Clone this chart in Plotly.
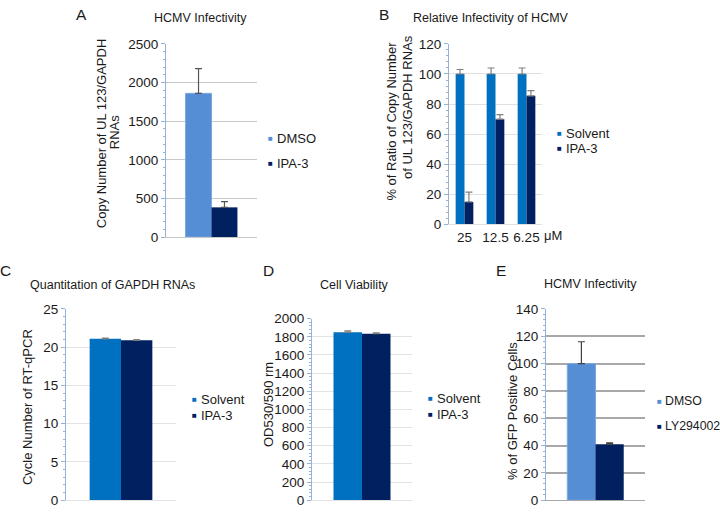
import plotly.graph_objects as go

# ---------------- data ----------------
a_groups = ["DMSO", "IPA-3"]
a_values = [1860, 385]
a_errors = [320, 75]

b_doses = ["25", "12.5", "6.25"]
b_solvent = [100, 100, 100]
b_solvent_err = [3, 4, 4]
b_ipa = [15, 70, 85.5]
b_ipa_err = [6.5, 3, 3.5]

c_groups = ["Solvent", "IPA-3"]
c_values = [21.1, 20.9]
c_errors = [0.1, 0.1]

d_groups = ["Solvent", "IPA-3"]
d_values = [1850, 1835]
d_errors = [15, 10]

e_groups = ["DMSO", "LY294002"]
e_values = [100, 41]
e_errors = [16, 1]

# ---------------- style ----------------
W, H = 720, 516
FONT = "Liberation Sans, Arial, sans-serif"
TXT = "#1a1a1a"
C_DMSO = "#558ED5"
C_SOLV = "#0070C0"
C_DARK = "#002060"
AXIS_BLUE = "#95B3D7"


def fx(px):
    return px / W


def fy(py):
    return 1 - py / H


fig = go.Figure()


def add_bar(name, x, y, err, color, ax, errcolor, line=None):
    fig.add_trace(go.Bar(
        name=name, x=x, y=y,
        marker=dict(color=color, line=dict(width=1 if line else 0, color=line or color)),
        error_y=dict(type="data", array=err, arrayminus=[0] * len(err),
                     symmetric=False, color=errcolor, thickness=1.2, width=3.5),
        xaxis="x" + ax, yaxis="y" + ax, showlegend=False,
    ))


cat = [" "]
# A
add_bar(a_groups[0], cat, [a_values[0]], [a_errors[0]], C_DMSO, "", "#555555", line="#7FA7DE")
add_bar(a_groups[1], cat, [a_values[1]], [a_errors[1]], C_DARK, "", "#555555")
# B
add_bar("Solvent", b_doses, b_solvent, b_solvent_err, C_SOLV, "2", "#808080")
add_bar("IPA-3", b_doses, b_ipa, b_ipa_err, C_DARK, "2", "#808080")
# C
add_bar(c_groups[0], cat, [c_values[0]], [c_errors[0]], C_SOLV, "3", "#808080")
add_bar(c_groups[1], cat, [c_values[1]], [c_errors[1]], C_DARK, "3", "#808080")
# D
add_bar(d_groups[0], cat, [d_values[0]], [d_errors[0]], C_SOLV, "4", "#808080")
add_bar(d_groups[1], cat, [d_values[1]], [d_errors[1]], C_DARK, "4", "#808080")
# E
add_bar(e_groups[0], cat, [e_values[0]], [e_errors[0]], C_DMSO, "5", "#404040", line="#7FA7DE")
add_bar(e_groups[1], cat, [e_values[1]], [e_errors[1]], C_DARK, "5", "#404040")

# panel geometry (pixels): x0, x1, ybottom, ytop
panels = {
    "": dict(x=(166, 257), y=(237, 38), rng=[0, 2500], dt=500, mdt=100, grid="#C8C8C8", gw=1),
    "2": dict(x=(449, 542), y=(224, 38), rng=[0, 120], dt=20, mdt=4, grid="#E0E0E0", gw=1),
    "3": dict(x=(66, 176), y=(508, 311), rng=[0, 25], dt=5, mdt=1, grid="#E3E3E3", gw=1),
    "4": dict(x=(312, 412), y=(508, 321), rng=[0, 2000], dt=200, mdt=40, grid="#E3E3E3", gw=1),
    "5": dict(x=(546, 645), y=(508, 311), rng=[0, 140], dt=20, mdt=4, grid="#A8A8A8", gw=1.6),
}

layout_axes = {}
for k, p in panels.items():
    xa = "xaxis" + k
    ya = "yaxis" + k
    layout_axes[xa] = dict(
        domain=[fx(p["x"][0]), fx(p["x"][1])], anchor="y" + k,
        showline=True, linecolor=p["grid"], linewidth=1,
        showgrid=False, ticks="", showticklabels=(k == "2"),
        tickfont=dict(size=13.5, color=TXT, family=FONT), fixedrange=True,
    )
    layout_axes[ya] = dict(
        domain=[fy(p["y"][0]), fy(p["y"][1])], anchor="x" + k,
        range=p["rng"], dtick=p["dt"], tick0=0,
        showline=True, linecolor=AXIS_BLUE, linewidth=1,
        ticks="outside", ticklen=4, tickcolor=AXIS_BLUE,
        minor=dict(dtick=p["mdt"], ticks="outside", ticklen=2.5, tickcolor=AXIS_BLUE, showgrid=False),
        showgrid=True, gridcolor=p["grid"], gridwidth=p["gw"], zeroline=False,
        tickfont=dict(size=13.5, color=TXT, family=FONT),
        fixedrange=True,
    )

ann = []


def text(s, px, py, size=12.5, xanchor="center", angle=0, color=TXT):
    ann.append(dict(text=s, x=fx(px), y=fy(py), xref="paper", yref="paper",
                    showarrow=False, xanchor=xanchor, yanchor="middle", textangle=angle,
                    font=dict(size=size, color=color, family=FONT)))


# panel letters
for s, px, py in [("A", 81, 8), ("B", 384, 8), ("C", 5, 271), ("D", 268, 271), ("E", 501, 271)]:
    text(s, px, py, size=15.5)

# titles
text("HCMV Infectivity", 200, 11)
text("Relative Infectivity of HCMV", 491, 11)
text("Quantitation of GAPDH RNAs", 112, 286)
text("Cell Viability", 354, 286)
text("HCMV Infectivity", 590, 285)
text("\u03bcM", 553, 235, size=13)

# y-axis titles
YT = 13
text("Copy Number of UL 123/GAPDH", 101, 130, size=YT, angle=-90)
text("RNAs", 114, 129, size=YT, angle=-90)
text("% of Ratio of Copy Number", 392, 117, size=YT, angle=-90)
text("of UL 123/GAPDH RNAs", 407, 103, size=YT, angle=-90)
text("Cycle Number of RT-qPCR", 27, 412, size=YT, angle=-90)
text("OD530/590 rm", 268, 410, size=YT, angle=-90)
text("% of GFP Positive Cells", 513, 416, size=YT, angle=-90)


def legend_item(label, color, sq_x, txt_x, py, size=13):
    text("\u25A0", sq_x, py, size=8, color=color)
    text(label, txt_x, py, size=size, xanchor="left")


legend_item(a_groups[0], C_DMSO, 270.5, 275, 135)
legend_item(a_groups[1], C_DARK, 270.5, 275, 161)
legend_item("Solvent", C_SOLV, 559, 564, 130)
legend_item("IPA-3", C_DARK, 559, 564, 146)
legend_item(c_groups[0], C_SOLV, 194, 199, 404)
legend_item(c_groups[1], C_DARK, 194, 199, 421)
legend_item(d_groups[0], C_SOLV, 430, 435, 403)
legend_item(d_groups[1], C_DARK, 430, 435, 420)
legend_item(e_groups[0], C_DMSO, 659, 663, 406, size=12.3)
legend_item(e_groups[1], C_DARK, 659, 663, 432, size=12.3)

fig.update_layout(
    width=W, height=H, margin=dict(l=0, r=0, t=0, b=0),
    paper_bgcolor="white", plot_bgcolor="white",
    barmode="group", bargap=0.43, bargroupgap=0,
    font=dict(family=FONT, color=TXT),
    annotations=ann, showlegend=False,
    **layout_axes,
)

fig.write_html("out.html", config={"displayModeBar": False},
               post_script="document.body.style.margin='0px';")
